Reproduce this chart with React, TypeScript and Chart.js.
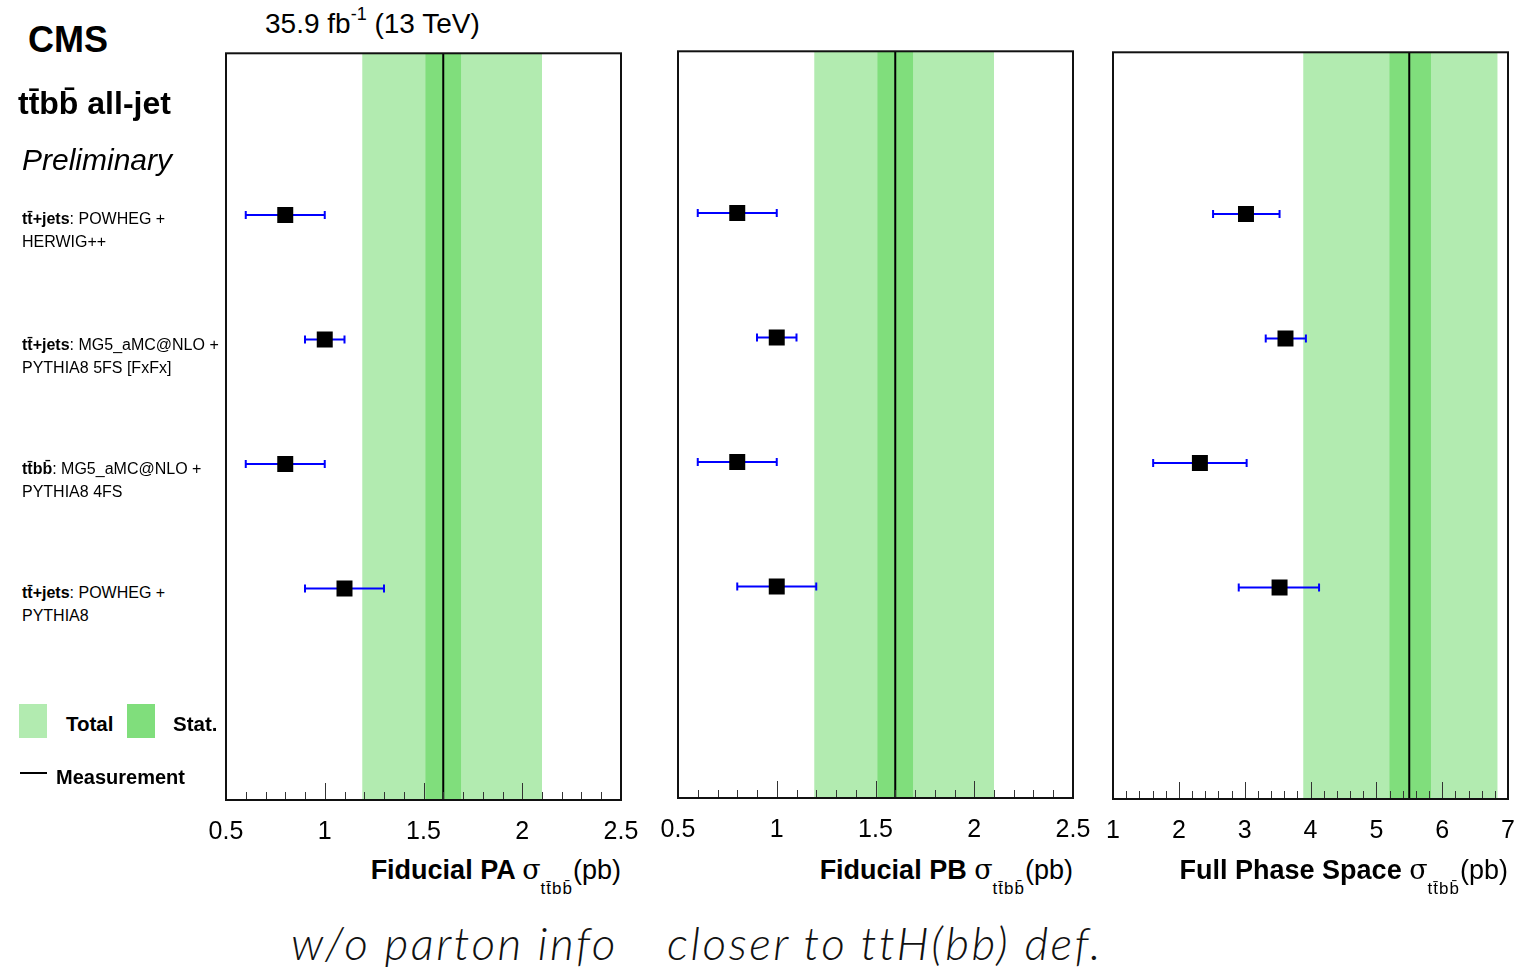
import React, { useEffect, useRef } from "react";
import { Chart, registerables } from "chart.js";

Chart.register(...registerables);

// ---------------- data ----------------
const modelProcess = ["tt\u0304+jets", "tt\u0304+jets", "tt\u0304bb\u0304", "tt\u0304+jets"];
const modelGenerator = [": POWHEG +", ": MG5_aMC@NLO +", ": MG5_aMC@NLO +", ": POWHEG +"];
const modelShower = ["HERWIG++", "PYTHIA8 5FS [FxFx]", "PYTHIA8 4FS", "PYTHIA8"];
const modelRow = [1.3, 2.3, 3.3, 4.3];

// Fiducial PA
const paCentral = [0.8, 1.0, 0.8, 1.1];
const paLow = [0.6, 0.9, 0.6, 0.9];
const paHigh = [1.0, 1.1, 1.0, 1.3];
const paMeasurement = 1.6;
const paStat = [1.51, 1.69];
const paTotal = [1.19, 2.1];
const paTickLabels = [0.5, 1, 1.5, 2, 2.5];

// Fiducial PB
const pbCentral = [0.8, 1.0, 0.8, 1.0];
const pbLow = [0.6, 0.9, 0.6, 0.8];
const pbHigh = [1.0, 1.1, 1.0, 1.2];
const pbMeasurement = 1.6;
const pbStat = [1.51, 1.69];
const pbTotal = [1.19, 2.1];
const pbTickLabels = [0.5, 1, 1.5, 2, 2.5];

// Full phase space
const fpsCentral = [3.02, 3.62, 2.32, 3.53];
const fpsLow = [2.52, 3.32, 1.61, 2.91];
const fpsHigh = [3.53, 3.93, 3.03, 4.13];
const fpsMeasurement = 5.5;
const fpsStat = [5.2, 5.83];
const fpsTotal = [3.89, 6.84];
const fpsTickLabels = [1, 2, 3, 4, 5, 6, 7];

const TOTAL_COLOR = "#b2ebb0";
const STAT_COLOR = "#80de7c";
const FONT = "'Liberation Sans', Arial, Helvetica, sans-serif";

type PanelDef = {
  central: number[];
  low: number[];
  high: number[];
  meas: number;
  stat: number[];
  total: number[];
  ticks: number[];
  minorStep: number;
  majorStep: number;
  box: { l: number; t: number; r: number; b: number };
  title: string;
};

const panels: PanelDef[] = [
  {
    central: paCentral, low: paLow, high: paHigh, meas: paMeasurement, stat: paStat, total: paTotal,
    ticks: paTickLabels, minorStep: 0.1, majorStep: 0.5,
    box: { l: 226, t: 52, r: 621, b: 800 }, title: "Fiducial PA",
  },
  {
    central: pbCentral, low: pbLow, high: pbHigh, meas: pbMeasurement, stat: pbStat, total: pbTotal,
    ticks: pbTickLabels, minorStep: 0.1, majorStep: 0.5,
    box: { l: 678, t: 50, r: 1073, b: 798 }, title: "Fiducial PB",
  },
  {
    central: fpsCentral, low: fpsLow, high: fpsHigh, meas: fpsMeasurement, stat: fpsStat, total: fpsTotal,
    ticks: fpsTickLabels, minorStep: 0.2, majorStep: 1,
    box: { l: 1113, t: 51, r: 1508, b: 799 }, title: "Full Phase Space",
  },
];

const PAD_L = 60;
const PAD_R = 60;
const PAD_T = 10;
const AXIS_H = 50;

function PanelChart({ p }: { p: PanelDef }) {
  const ref = useRef<HTMLCanvasElement>(null);
  const w = p.box.r - p.box.l + PAD_L + PAD_R;
  const h = p.box.b - p.box.t + PAD_T + AXIS_H;

  useEffect(() => {
    const min = p.ticks[0];
    const max = p.ticks[p.ticks.length - 1];
    const decorPlugin = {
      id: "decor",
      beforeDatasetsDraw(chart: any) {
        const { ctx, chartArea } = chart;
        const x = chart.scales.x;
        const { top, bottom } = chartArea;
        ctx.save();
        const t0 = x.getPixelForValue(p.total[0]);
        const t1 = x.getPixelForValue(p.total[1]);
        ctx.fillStyle = TOTAL_COLOR;
        ctx.fillRect(t0, top, t1 - t0, bottom - top);
        const s0 = x.getPixelForValue(p.stat[0]);
        const s1 = x.getPixelForValue(p.stat[1]);
        ctx.fillStyle = STAT_COLOR;
        ctx.fillRect(s0, top, s1 - s0, bottom - top);
        const m = x.getPixelForValue(p.meas);
        ctx.strokeStyle = "#000";
        ctx.lineWidth = 2;
        ctx.beginPath();
        ctx.moveTo(m, top);
        ctx.lineTo(m, bottom);
        ctx.stroke();
        // inner tick marks
        ctx.strokeStyle = "#333";
        ctx.lineWidth = 1;
        const n = Math.round((max - min) / p.minorStep);
        for (let i = 1; i < n; i++) {
          const v = min + i * p.minorStep;
          const ratio = v / p.majorStep;
          const isMajor = Math.abs(ratio - Math.round(ratio)) < 1e-6;
          const px = Math.round(x.getPixelForValue(v)) + 0.5;
          ctx.beginPath();
          ctx.moveTo(px, bottom);
          ctx.lineTo(px, bottom - (isMajor ? 17 : 8));
          ctx.stroke();
        }
        ctx.restore();
      },
      afterDatasetsDraw(chart: any) {
        const { ctx, chartArea } = chart;
        ctx.save();
        ctx.strokeStyle = "#111";
        ctx.lineWidth = 2;
        ctx.strokeRect(chartArea.left, chartArea.top, chartArea.right - chartArea.left, chartArea.bottom - chartArea.top);
        ctx.restore();
      },
    };

    const chart = new Chart(ref.current as HTMLCanvasElement, {
      type: "scatter",
      data: {
        datasets: [
          {
            label: "models",
            data: p.central.map((x, i) => ({ x, y: modelRow[i] })),
            pointStyle: "rect",
            pointRadius: 11.3,
            pointHoverRadius: 11.3,
            backgroundColor: "#000",
            borderColor: "#000",
            borderWidth: 0,
            order: 0,
          } as any,
          ...p.low.map((lo, i) => ({
            label: "err" + i,
            data: [
              { x: lo, y: modelRow[i] },
              { x: p.high[i], y: modelRow[i] },
            ],
            showLine: true,
            borderColor: "#0000ff",
            borderWidth: 2,
            pointStyle: "line",
            pointRotation: 90,
            pointRadius: 4,
            pointHoverRadius: 4,
            pointBorderColor: "#0000ff",
            pointBorderWidth: 2,
            order: 1,
          } as any)),
        ],
      },
      options: {
        responsive: false,
        animation: false,
        events: [],
        layout: { padding: { left: PAD_L, right: PAD_R, top: PAD_T, bottom: 0 } },
        plugins: { legend: { display: false }, tooltip: { enabled: false } },
        scales: {
          x: {
            type: "linear",
            position: "bottom",
            min,
            max,
            afterBuildTicks: (s: any) => {
              s.ticks = p.ticks.map((v) => ({ value: v }));
            },
            afterFit: (s: any) => {
              s.height = AXIS_H;
            },
            grid: { display: false, drawTicks: false },
            border: { display: false },
            ticks: {
              autoSkip: false,
              maxRotation: 0,
              padding: 17,
              color: "#000",
              font: { family: FONT, size: 25 },
              callback: (v: any) => String(v),
            },
          },
          y: { type: "linear", min: 0, max: 6, reverse: true, display: false },
        },
      } as any,
      plugins: [decorPlugin],
    });
    return () => chart.destroy();
  }, []);

  return (
    <canvas
      ref={ref}
      width={w}
      height={h}
      style={{
        position: "absolute",
        left: p.box.l - PAD_L,
        top: p.box.t - PAD_T,
        width: w,
        height: h,
      }}
    />
  );
}

const abs = (left: number, cy: number, extra: React.CSSProperties = {}): React.CSSProperties => ({
  position: "absolute",
  left,
  top: cy,
  transform: "translateY(-50%)",
  whiteSpace: "nowrap",
  fontFamily: FONT,
  color: "#000",
  lineHeight: 1,
  ...extra,
});

const annotStyle: React.CSSProperties = {
  fontSize: 46,
  fontStyle: "italic",
  fontWeight: 300,
  letterSpacing: 2.5,
  fontFamily: "Lato, 'Open Sans', sans-serif",
  color: "#111",
};

export default function App() {
  const labelY = [219, 345, 469, 593];
  return (
    <div
      style={{
        position: "absolute",
        left: 0,
        top: 0,
        width: 1536,
        height: 967,
        background: "#fff",
        overflow: "hidden",
      }}
    >
      {panels.map((p, i) => (
        <PanelChart key={i} p={p} />
      ))}

      {/* header */}
      <div style={abs(265, 24, { fontSize: 28 })}>
        35.9 fb<sup style={{ fontSize: 18, verticalAlign: "top", position: "relative", top: -5 }}>-1</sup> (13 TeV)
      </div>
      <div style={abs(28, 40, { fontSize: 36, fontWeight: "bold" })}>CMS</div>
      <div style={abs(18, 103, { fontSize: 32, fontWeight: "bold" })}>tt{"\u0304"}bb{"\u0304"} all-jet</div>
      <div style={abs(22, 160, { fontSize: 30, fontStyle: "italic" })}>Preliminary</div>

      {/* model labels */}
      {modelProcess.map((proc, i) => (
        <React.Fragment key={i}>
          <div style={abs(22, labelY[i], { fontSize: 16 })}>
            <span style={{ fontWeight: "bold" }}>{proc}</span>
            {modelGenerator[i]}
          </div>
          <div style={abs(22, labelY[i] + 23, { fontSize: 16 })}>{modelShower[i]}</div>
        </React.Fragment>
      ))}

      {/* legend */}
      <div style={{ position: "absolute", left: 19, top: 704, width: 28, height: 34, background: TOTAL_COLOR }} />
      <div style={abs(66, 724, { fontSize: 20.5, fontWeight: "bold" })}>Total</div>
      <div style={{ position: "absolute", left: 127, top: 704, width: 28, height: 34, background: STAT_COLOR }} />
      <div style={abs(173, 724, { fontSize: 20.5, fontWeight: "bold" })}>Stat.</div>
      <div style={{ position: "absolute", left: 20, top: 772, width: 27, height: 2, background: "#000" }} />
      <div style={abs(56, 777, { fontSize: 20, fontWeight: "bold" })}>Measurement</div>

      {/* axis titles */}
      {panels.map((p, i) => (
        <div
          key={"t" + i}
          style={{
            position: "absolute",
            right: 1536 - p.box.r,
            top: 870,
            transform: "translateY(-50%)",
            whiteSpace: "nowrap",
            fontFamily: FONT,
            fontSize: 27,
            lineHeight: 1,
            color: "#000",
          }}
        >
          <span style={{ fontWeight: "bold" }}>{p.title} </span>
          <span style={{ fontFamily: "'DejaVu Serif', 'Liberation Serif', serif" }}>σ</span>
          <span style={{ fontSize: 17, position: "relative", top: 15, letterSpacing: 1 }}>tt{"\u0304"}bb{"\u0304"}</span>
          (pb)
        </div>
      ))}

      {/* bottom annotations */}
      <div style={abs(291, 943, annotStyle)}>w/o parton info</div>
      <div style={abs(667, 943, annotStyle)}>closer to ttH(bb) def.</div>
    </div>
  );
}
